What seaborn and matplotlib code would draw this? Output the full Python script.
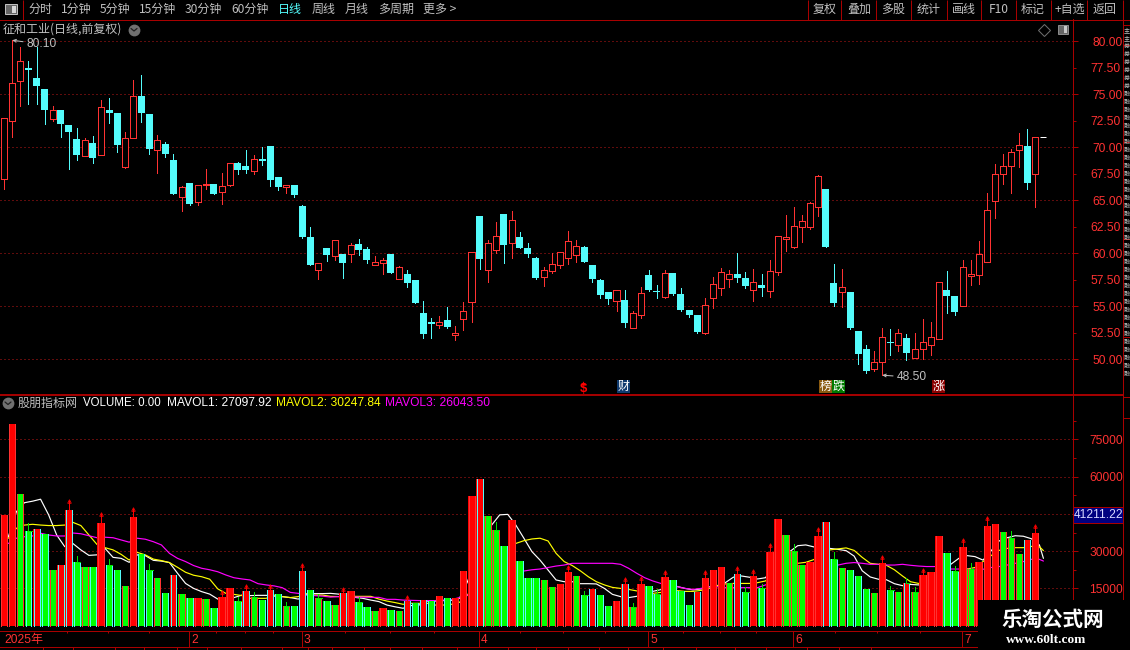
import matplotlib
matplotlib.use('Agg')
import matplotlib.pyplot as plt
from matplotlib.patches import Rectangle
import numpy as np
import seaborn as sns

# candles
open_ = [66.98,72.45,76.23,77.48,76.51,75.50,72.70,73.52,72.08,70.79,
         69.21,70.41,69.31,73.52,73.24,68.18,70.91,74.84,73.14,69.75,
         70.31,68.81,65.35,66.64,64.87,66.48,66.54,65.82,66.48,68.49,
         68.24,67.80,68.90,70.13,67.20,66.29,66.45,64.47,61.54,58.46,
         60.47,59.78,59.94,59.97,60.88,60.41,58.90,59.06,59.94,57.61,
         58.05,57.48,54.37,53.52,53.27,53.71,52.30,53.84,55.44,63.52,
         58.46,60.35,63.71,61.01,61.54,60.50,59.56,57.80,58.37,58.93,
         59.59,59.87,60.60,58.90,57.48,56.35,55.53,55.60,52.99,54.21,
         57.96,56.45,55.91,58.14,56.16,54.65,54.18,52.48,55.82,56.76,
         57.61,58.05,57.67,56.57,57.01,56.48,58.27,61.32,60.63,62.52,
         62.52,64.40,66.07,57.20,56.38,56.35,52.67,50.97,49.12,49.72,
         51.64,51.38,52.01,50.13,51.00,51.38,51.95,56.54,55.97,55.06,
         57.89,57.99,59.21,64.91,67.45,68.21,69.78,70.13,67.45]
close = [72.74,76.04,78.11,77.33,75.79,73.52,73.49,72.20,71.45,69.28,
         70.66,69.00,73.77,73.24,70.22,70.85,74.81,73.24,69.84,70.66,
         69.37,65.60,66.23,64.65,66.42,66.54,65.60,66.32,68.49,67.86,
         67.86,68.87,68.71,66.92,66.26,66.45,65.50,61.54,58.90,59.06,
         59.84,61.23,59.09,60.75,60.31,59.37,59.18,59.37,58.14,58.68,
         57.20,55.31,52.39,53.36,53.49,53.05,52.45,54.53,60.09,59.47,
         60.94,61.60,60.79,63.11,60.50,59.94,57.67,58.40,58.96,60.09,
         61.13,60.66,59.18,57.58,56.07,55.69,56.51,53.43,54.34,56.23,
         56.54,56.35,58.11,56.16,54.65,54.18,52.58,55.09,57.08,58.21,
         58.02,57.67,56.92,57.26,56.73,58.30,61.60,61.51,62.55,63.02,
         64.72,67.26,60.60,55.31,56.79,52.96,50.50,48.90,49.72,52.08,
         51.54,52.45,50.60,50.94,51.60,52.08,57.26,55.97,54.47,58.68,
         58.05,59.91,64.06,67.45,68.21,69.53,70.19,66.64,70.94]
high = [72.74,80.10,79.43,78.14,79.50,75.50,73.90,73.52,72.08,71.82,
        70.88,71.07,74.47,74.65,73.24,71.45,76.35,76.82,73.14,71.16,
        70.50,69.37,66.35,66.64,66.42,67.96,66.54,67.58,68.49,68.62,
        69.75,69.28,70.03,70.13,67.20,66.45,66.45,64.56,62.48,59.06,
        60.47,61.23,59.94,60.97,61.35,60.60,59.75,59.56,59.94,58.77,
        58.43,57.48,55.50,53.90,54.09,54.94,53.14,55.41,60.09,63.52,
        61.26,62.96,63.71,63.99,62.01,60.97,59.65,58.71,60.03,60.09,
        62.11,61.26,60.69,58.90,57.58,56.35,56.51,56.54,54.56,56.82,
        58.43,57.01,58.43,58.14,56.73,54.65,54.18,55.79,57.77,58.62,
        58.43,60.03,58.24,58.52,58.05,59.37,61.60,63.62,64.37,63.62,
        64.84,67.39,66.07,59.00,58.52,56.35,52.67,51.35,50.79,52.96,
        52.86,52.86,52.39,52.48,53.81,53.52,57.26,58.33,55.97,59.37,
        59.37,61.16,65.69,68.43,69.37,69.84,71.35,71.73,70.94]
low = [66.07,71.00,73.93,74.09,74.09,72.20,72.52,70.97,67.96,68.80,
       69.21,68.49,69.31,72.30,69.56,68.05,70.91,72.39,69.37,67.58,
       69.09,65.60,63.99,64.59,64.56,66.07,65.60,64.65,66.38,67.48,
       67.58,67.48,68.33,66.35,65.97,65.69,65.31,61.45,58.90,57.58,
       59.28,59.37,57.67,59.18,59.84,59.09,58.90,58.05,58.14,57.61,
       56.82,55.31,52.01,52.01,52.96,52.96,51.82,52.77,53.52,58.52,
       57.30,60.03,59.09,59.56,60.50,59.65,57.58,56.92,58.14,58.62,
       58.99,59.18,59.18,57.30,55.79,55.22,54.56,53.05,52.99,53.90,
       56.45,55.79,55.79,56.07,54.56,53.99,52.48,52.39,54.84,56.07,
       56.82,57.30,56.73,55.50,55.97,55.88,57.96,60.22,60.50,61.07,
       62.30,63.52,60.60,55.03,54.94,52.86,49.56,48.71,48.90,48.50,
       50.41,50.79,49.94,50.13,50.03,50.41,51.89,54.37,54.18,55.06,
       57.01,57.11,59.21,63.33,66.54,65.69,68.14,66.07,64.37]

# volume, in thousands
volume = [44.6,81.2,53.0,38.1,38.9,36.9,22.4,24.4,46.6,25.6,
          23.6,23.6,41.3,24.4,22.4,16.0,43.7,28.9,22.4,19.2,
          13.2,20.4,12.7,11.1,11.1,10.7,7.1,11.5,15.2,9.9,
          14.0,11.5,10.3,14.4,12.7,7.9,7.9,22.0,14.4,11.1,
          9.9,8.3,13.2,14.0,9.5,7.5,5.9,7.1,6.3,5.9,
          9.9,9.1,10.3,9.9,11.9,11.1,11.1,22.0,52.2,59.0,
          44.2,38.5,32.1,42.5,26.0,19.2,19.2,18.4,15.6,16.8,
          21.6,20.0,12.3,14.8,12.3,7.9,9.9,16.8,7.5,16.8,
          16.0,12.7,19.6,18.4,14.0,8.3,13.6,19.2,22.4,23.6,
          17.2,20.8,13.6,20.0,15.2,29.7,42.9,36.5,30.1,24.4,
          25.6,36.1,41.7,26.8,23.2,22.4,20.0,14.8,13.2,25.2,
          14.4,13.6,17.2,13.6,20.4,21.6,36.1,29.3,22.0,31.7,
          22.8,25.6,40.1,40.9,37.7,35.3,28.9,34.5,37.3]
bar_fill = list("RRGGRGGRRG" "GGRGGGRGGG" "GRGGRGGRRG" "RGGRGGGRGG" "GGRRGGGRGG"
                "RGRGRGRRRR" "GGGRGGGGGR" "RGGRGGRRGR" "GGRGGGRRRR" "GRGRGRRGGG"
                "RRRGGGGGGR" "GGRGRRRGGR" "GRRRGGGRR")

mavol1 = [35.8,45.9,49.5,50.1,50.9,44.6,36.5,31.8,33.1,30.5,
          28.3,28.5,31.1,27.5,27.1,25.5,28.5,28.2,26.3,26.0,
          25.4,21.1,17.0,15.0,13.7,12.7,10.7,10.3,11.3,12.3,
          12.1,12.2,12.2,11.9,11.7,11.3,10.7,12.6,12.9,12.9,
          13.0,12.7,11.4,11.4,11.0,10.3,9.7,8.3,7.6,7.0,
          8.1,8.3,9.9,9.9,10.1,10.2,11.0,17.7,27.1,34.5,
          40.5,44.6,44.8,40.5,35.2,29.8,26.4,22.4,18.4,17.7,
          17.7,16.9,16.9,16.8,15.0,12.6,11.7,11.3,11.8,13.3,
          13.8,14.5,15.7,15.8,15.0,14.4,14.8,15.7,16.1,17.3,
          19.5,20.0,19.5,18.8,19.3,24.2,27.1,29.8,32.2,32.5,
          31.7,31.1,31.1,30.7,30.2,28.0,22.1,19.6,18.7,18.5,
          16.9,16.1,16.6,16.4,17.0,18.0,22.4,24.7,27.1,28.2,
          27.8,26.4,30.1,34.1,35.4,36.2,36.0,35.0,32.5,27.1]
mavol2 = [35.2,39.2,40.5,40.8,40.5,40.3,40.3,40.5,41.6,40.3,
          36.5,32.7,31.4,30.5,28.7,26.4,29.5,28.5,26.8,26.2,
          25.4,23.5,21.5,20.3,19.7,18.7,14.8,13.0,12.6,12.1,
          11.0,11.0,11.0,12.3,11.7,11.3,11.7,12.9,12.3,12.3,
          11.8,11.7,11.7,11.8,11.8,11.8,10.7,9.9,9.3,8.6,
          9.0,9.0,9.0,8.3,8.3,8.6,9.4,12.3,17.7,22.4,
          25.4,27.8,30.9,33.1,34.2,34.9,35.2,34.1,29.1,25.8,
          24.2,22.1,19.7,17.7,16.4,15.4,15.0,14.6,14.0,13.3,
          13.0,13.4,14.1,14.1,13.8,13.8,14.2,15.0,16.1,16.8,
          17.0,17.0,17.0,17.3,18.0,21.5,23.1,24.4,25.1,25.5,
          26.6,29.0,30.5,30.9,31.3,30.3,27.5,25.1,24.7,24.3,
          22.5,20.0,17.7,17.0,16.6,17.8,20.1,21.2,21.7,22.8,
          23.4,25.8,28.2,30.3,31.1,31.4,31.4,31.9,31.8,30.2]
mavol3 = [33.1,35.2,35.8,36.1,37.2,36.5,36.1,36.1,37.3,37.0,
          36.2,35.4,35.6,35.4,34.5,33.6,35.2,34.8,33.8,32.5,
          29.1,27.1,25.8,24.2,23.1,22.5,21.7,20.4,19.3,18.8,
          18.4,16.9,16.4,16.0,15.3,13.4,13.0,12.3,12.1,11.9,
          11.5,11.7,11.7,11.5,11.5,11.4,11.4,10.6,10.6,10.3,
          10.2,10.1,10.1,10.1,10.3,10.5,11.3,12.3,14.4,16.4,
          17.7,19.3,20.7,21.3,22.0,22.5,22.8,23.4,24.0,24.4,
          25.1,25.1,25.1,25.1,25.1,25.1,24.7,23.1,21.1,19.3,
          18.0,17.0,16.1,15.7,15.0,14.6,15.0,15.6,15.7,15.3,
          15.3,15.3,15.3,15.3,16.4,18.0,19.7,20.4,21.1,22.0,
          23.1,23.5,24.2,24.4,25.1,25.4,25.1,24.7,24.7,24.4,
          24.4,24.7,24.3,24.0,23.8,23.8,23.4,22.8,22.8,22.7,
          22.7,22.7,23.4,23.8,24.4,25.1,25.8,26.7,26.7,26.0]

# little flags above some volume bars: bar index, level
red_flag_bar = [8,12,16,27,30,33,37,42,50,70,77,79,82,87,91,93,95,101,109,114,119,122,128]
red_flag_top = [50.2,45.0,47.0,13.6,16.0,16.0,24.4,14.8,11.5,23.6,18.8,19.2,21.6,21.6,23.2,22.0,32.5,38.9,27.6,22.4,34.5,43.2,40.1]
green_flag_bar = [3,9,13,18,29,31,35,39,44,61,72,78,81,92,94,98,103,110,112,113,118,120,125]
green_flag_top = [41.3,28.0,26.8,24.8,11.5,13.6,9.5,12.7,11.5,41.7,14.0,9.1,14.8,15.6,16.8,32.9,29.7,16.0,19.2,15.6,24.0,25.2,38.1]

price_ticks = [50, 55, 60, 65, 70, 75, 80]
price_minor = [52.5, 57.5, 62.5, 67.5, 72.5, 77.5]
vol_labels = {15: '15000', 30: '30000', 60: '60000', 75: '75000'}
vol_grid = [15, 30, 45, 60, 75]
vol_minor = [7.5, 22.5, 37.5, 52.5, 67.5, 82.5]
month_bars = [23, 37, 59, 80, 98, 119]
month_names = ['2', '3', '4', '5', '6', '7']

left_tabs = ['分时', '1分钟', '5分钟', '15分钟', '30分钟', '60分钟', '日线', '周线', '月线', '多周期', '更多 >']
left_tabs_x = [28, 61, 100, 139, 185, 231, 278, 312, 345, 378, 423]
right_tabs = ['复权', '叠加', '多股', '统计', '画线', 'F10', '标记', '+自选', '返回']
right_tabs_x = [813, 847, 881, 917, 952, 989, 1021, 1055, 1093]
tab_seps = [807.5, 841, 876, 911, 947, 981, 1016, 1051, 1087, 1122.7]
side_chars = '主主券券券券券券融融融融融融融融融融融融融融融融融融融融融融融融融融融融融融融融融融融融'

W, H = 1130, 650
BG = 'black'
LINE = '#A80000'
DOT = '#C01818'
UP = '#FF3232'
DOWN = '#54FCFC'
LABEL = '#FF3232'
GREY = '#C0C0C0'
CJK = ['Noto Sans CJK SC', 'DejaVu Sans']
NUM = ['Liberation Sans', 'Noto Sans CJK SC']
PX = 0.72  # one pixel in points at dpi 100

sns.set_theme(style='dark', rc={'axes.facecolor': BG, 'figure.facecolor': BG,
                                'axes.edgecolor': LINE, 'axes.linewidth': PX,
                                'grid.color': DOT})
plt.rcParams['font.family'] = CJK

n = len(close)
bars = np.arange(n)
XLIM = (-4.33 / 8.055, (1072.5 - 4.33) / 8.055)


def panel(fig, top, bottom, right=1072.5):
    return fig.add_axes([0, 1 - bottom / H, right / W, (bottom - top) / H])


def style_axis(ax, ylim):
    ax.set_xlim(*XLIM)
    ax.set_ylim(*ylim)
    ax.set_xticks([])
    ax.yaxis.tick_right()
    ax.spines[['top', 'bottom', 'right']].set_color(LINE)
    ax.spines['left'].set_visible(False)
    ax.set_xlabel('')
    ax.set_ylabel('')
    ax.yaxis.grid(True, which='major', color=DOT, linewidth=PX, linestyle=(0, (1, 3)))
    ax.set_axisbelow(True)


def set_right_labels(ax, ticks, labels, minor=False, length=3.6, pad=32.8):
    ax.set_yticks(ticks, minor=minor)
    ax.set_yticklabels(labels, minor=minor, color=LABEL, fontsize=8.64, family=NUM, ha='right')
    ax.tick_params(axis='y', which='minor' if minor else 'major', right=True, left=False,
                   length=length, width=PX, color=LINE, pad=pad)


fig = plt.figure(figsize=(W / 100, H / 100), dpi=100)

# price panel
ax = panel(fig, 19.5, 394.5)
is_up = np.array(close) >= np.array(open_)
colors = [UP if u else DOWN for u in is_up]
ax.vlines(bars, low, high, colors=colors, linewidth=PX, zorder=2, antialiased=False)
body_low = np.minimum(open_, close)
body_h = np.abs(np.array(close) - np.array(open_))
ax.bar(bars[~is_up], body_h[~is_up], bottom=body_low[~is_up], width=0.87, color=DOWN,
       linewidth=0, zorder=3, antialiased=False)
ax.bar(bars[is_up], body_h[is_up], bottom=body_low[is_up], width=0.75, facecolor=BG,
       edgecolor=UP, linewidth=PX, zorder=3, antialiased=False)
style_axis(ax, (80 - (394.5 - 41.3) / 10.6, 80 + (41.3 - 19.5) / 10.6))
set_right_labels(ax, price_ticks, [f'{t:.2f}' for t in price_ticks])
set_right_labels(ax, price_minor, [f'{t:.2f}' for t in price_minor], minor=True, length=2)
ax.hlines(close[-1], n - 0.4, n + 0.3, colors='white', linewidth=PX, zorder=3)
for hi_x, hi_y, txt, off in [(1, 80.10, '80.10', (14, -4)), (109, 48.50, '48.50', (14, -2))]:
    ax.annotate(txt, xy=(hi_x, hi_y), xytext=off, textcoords='offset pixels',
                color=GREY, fontsize=8.64, family=NUM, va='center',
                arrowprops=dict(arrowstyle='->', color=GREY, lw=PX, shrinkA=0, shrinkB=0, mutation_scale=5))

# volume panel
vax = panel(fig, 394.5, 630.5)
ma_pos = np.minimum(np.arange(n + 1) + 0.5, n)
for series, color in zip([mavol1, mavol2, mavol3], ['white', '#FFFF00', '#FF00FF']):
    sns.lineplot(x=ma_pos, y=series, color=color, linewidth=0.85, ax=vax, zorder=1, errorbar=None)
fill_map = {'R': '#FF0000', 'G': '#00FF00'}
sns.barplot(x=bars, y=volume, hue=bars, palette=[fill_map[f] for f in bar_fill], legend=False,
            dodge=False, native_scale=True, width=0.87, saturation=1, ax=vax, zorder=2)
for cont in vax.containers:
    for patch in cont:
        patch.set_linewidth(0)
        patch.set_antialiased(False)
        patch.set_zorder(2)
# each bar carries its candle colour down both sides
vax.vlines(bars - 0.37, 0, volume, colors=colors, linewidth=PX, zorder=2.5, antialiased=False)
vax.vlines(bars + 0.37, 0, volume, colors=colors, linewidth=PX, zorder=2.5, antialiased=False)
vax.vlines(red_flag_bar, [volume[i] for i in red_flag_bar], red_flag_top, colors='#FF0000',
           linewidth=PX, zorder=3, antialiased=False)
vax.plot(red_flag_bar, red_flag_top, linestyle='', marker='^', markersize=2.6, markerfacecolor='none',
         markeredgecolor='#FF0000', markeredgewidth=0.6, zorder=3)
vax.vlines(green_flag_bar, [volume[i] for i in green_flag_bar], green_flag_top, colors='#00E000',
           linewidth=PX, zorder=3, antialiased=False)
vax.hlines([volume[i] for i in green_flag_bar], green_flag_bar, np.array(green_flag_bar) + 0.4,
           colors='#00E000', linewidth=PX, zorder=3, antialiased=False)
style_axis(vax, (-(630.5 - 625.67) / 2.4844, (625.67 - 394.5) / 2.4844))
set_right_labels(vax, vol_grid, [vol_labels.get(v, '') for v in vol_grid])
vax.set_yticks(vol_minor, minor=True)
vax.tick_params(axis='y', which='minor', right=True, left=False, length=2, width=PX, color=LINE)
vax.spines['top'].set_linewidth(1.4)

# date strip
dax = panel(fig, 630.5, 646.5)
dax.set_xlim(*XLIM)
dax.set_ylim(0, 1)
dax.set_yticks([])
dax.set_xticks([])
dax.spines[:].set_color(LINE)
dax.spines['left'].set_visible(False)
dax.vlines(np.array(month_bars) - 0.1, 0, 1, colors=LINE, linewidth=PX)
dax.text(0, 0.42, '2025年', color=LABEL, fontsize=8.64, family=NUM, va='center', ha='left')
for b, name in zip(month_bars, month_names):
    dax.text(b + 0.18, 0.42, name, color=LABEL, fontsize=8.64, family=NUM, va='center', ha='left')

# everything around the panels, in screen pixels
ov = fig.add_axes([0, 0, 1, 1], facecolor='none')
ov.set_xlim(0, W)
ov.set_ylim(H, 0)
ov.axis('off')
ov.hlines(19.5, 0, W, colors=LINE, linewidth=PX)
ov.vlines(tab_seps, 0, 19.5, colors=LINE, linewidth=PX)
ov.vlines(22.5, 0, 19.5, colors=LINE, linewidth=PX)
ov.vlines(1122.7, 19.5, 600, colors=LINE, linewidth=PX)
ov.hlines(394.5, 1072.5, 1122.7, colors=LINE, linewidth=1.4)
ov.add_patch(Rectangle((5, 4), 12, 10, facecolor='#666666', edgecolor=GREY, linewidth=PX))
ov.add_patch(Rectangle((12, 5.5), 4, 7, facecolor='#D8D8D8', linewidth=0))
ov.add_patch(Rectangle((1057.5, 24.5), 10, 9, facecolor='#666666', edgecolor='#8A8A8A', linewidth=PX))
ov.add_patch(Rectangle((1063.5, 25.5), 3, 7, facecolor='#C8C8C8', linewidth=0))
ov.plot([1044], [29.5], marker='D', markersize=6, markerfacecolor='none', markeredgecolor='#707070', markeredgewidth=PX)

for label, x in zip(left_tabs, left_tabs_x):
    ov.text(x, 9.5, label, color='#54FCFC' if label == '日线' else GREY, fontsize=8.64, va='center')
for label, x in zip(right_tabs, right_tabs_x):
    ov.text(x, 9.5, label, color=GREY, fontsize=8.64, va='center')
ov.text(3, 29.5, '征和工业(日线,前复权)', color=GREY, fontsize=8.64, va='center')
ov.text(18, 403, '股朋指标网', color=GREY, fontsize=8.64, va='center')
for cx, cy in [(134, 29.5), (8, 403)]:
    ov.plot([cx], [cy], marker='o', markersize=8.5, color='#707070', markeredgewidth=0)
    ov.plot([cx - 3, cx, cx + 3], [cy - 1, cy + 1.5, cy - 1], color='#202020', linewidth=0.9)

header = [('VOLUME: 0.00', 83, 'white', 8.3), ('MAVOL1: 27097.92', 167, 'white', 8.64),
          ('MAVOL2: 30247.84', 276, '#FFFF00', 8.64), ('MAVOL3: 26043.50', 385, '#FF00FF', 8.64)]
for label, x, color, size in header:
    ov.text(x, 403, label, color=color, fontsize=size, family=NUM, va='center')

# event tags above the volume panel
ov.text(583, 388.5, '$', color='#FF0000', fontsize=9.5, family=NUM, weight='bold', va='center', ha='center')
ov.plot([582.5], [383], marker='^', markersize=3, color='#FF0000', markeredgewidth=0)
tags = [('财', 617, '#0F3A6E'), ('榜', 819, '#8A5A10'), ('跌', 832, '#007A00'), ('涨', 932, '#8B0000')]
for label, x, color in tags:
    ov.add_patch(Rectangle((x, 380), 13, 13, facecolor=color, linewidth=0))
    ov.text(x + 6.5, 386.2, label, color='white', fontsize=8.64, va='center', ha='center')

# cursor value box
ov.add_patch(Rectangle((1073, 507), 49.5, 16, facecolor='#000080', edgecolor=LINE, linewidth=PX))
ov.text(1074, 515, '41211.22', color='#D8D8FF', fontsize=8.64, family=NUM, va='center')

# strip ticks
top_ticks = [67, 108, 149, 216, 245, 273, 345, 390, 434, 520, 563, 605, 683, 720, 756, 835, 877, 920]
ov.vlines(top_ticks, 630.5, 632.5, colors=LINE, linewidth=PX)
tab_ticks = [43, 73, 115, 144, 177, 207, 241, 282, 308, 332, 364, 390, 422, 457,
             508, 536, 568, 599, 628, 663, 696, 735, 766, 807, 839, 871]
ov.vlines(tab_ticks, 646.5, 650, colors=LINE, linewidth=PX)

# narrow side panel
ov.hlines([25, 45, 142, 239, 337, 397, 418], 1122.7, W, colors=LINE, linewidth=PX)
for y, ch in zip(range(30, 392, 8), side_chars):
    ov.text(1123.5, y, ch, color=GREY, fontsize=4.4, va='center')

# site mark in the corner
ov.add_patch(Rectangle((978, 600), 152, 50, facecolor='black', linewidth=0, zorder=5))
ov.text(1053, 619, '乐淘公式网', color='white', fontsize=14.8, weight='bold', ha='center', va='center', zorder=6)
ov.text(1046, 640, 'www.60lt.com', color='white', fontsize=9.6, family='Liberation Serif', weight='bold',
        ha='center', va='center', zorder=6)

fig.savefig('out.png', dpi=100, facecolor=BG)
